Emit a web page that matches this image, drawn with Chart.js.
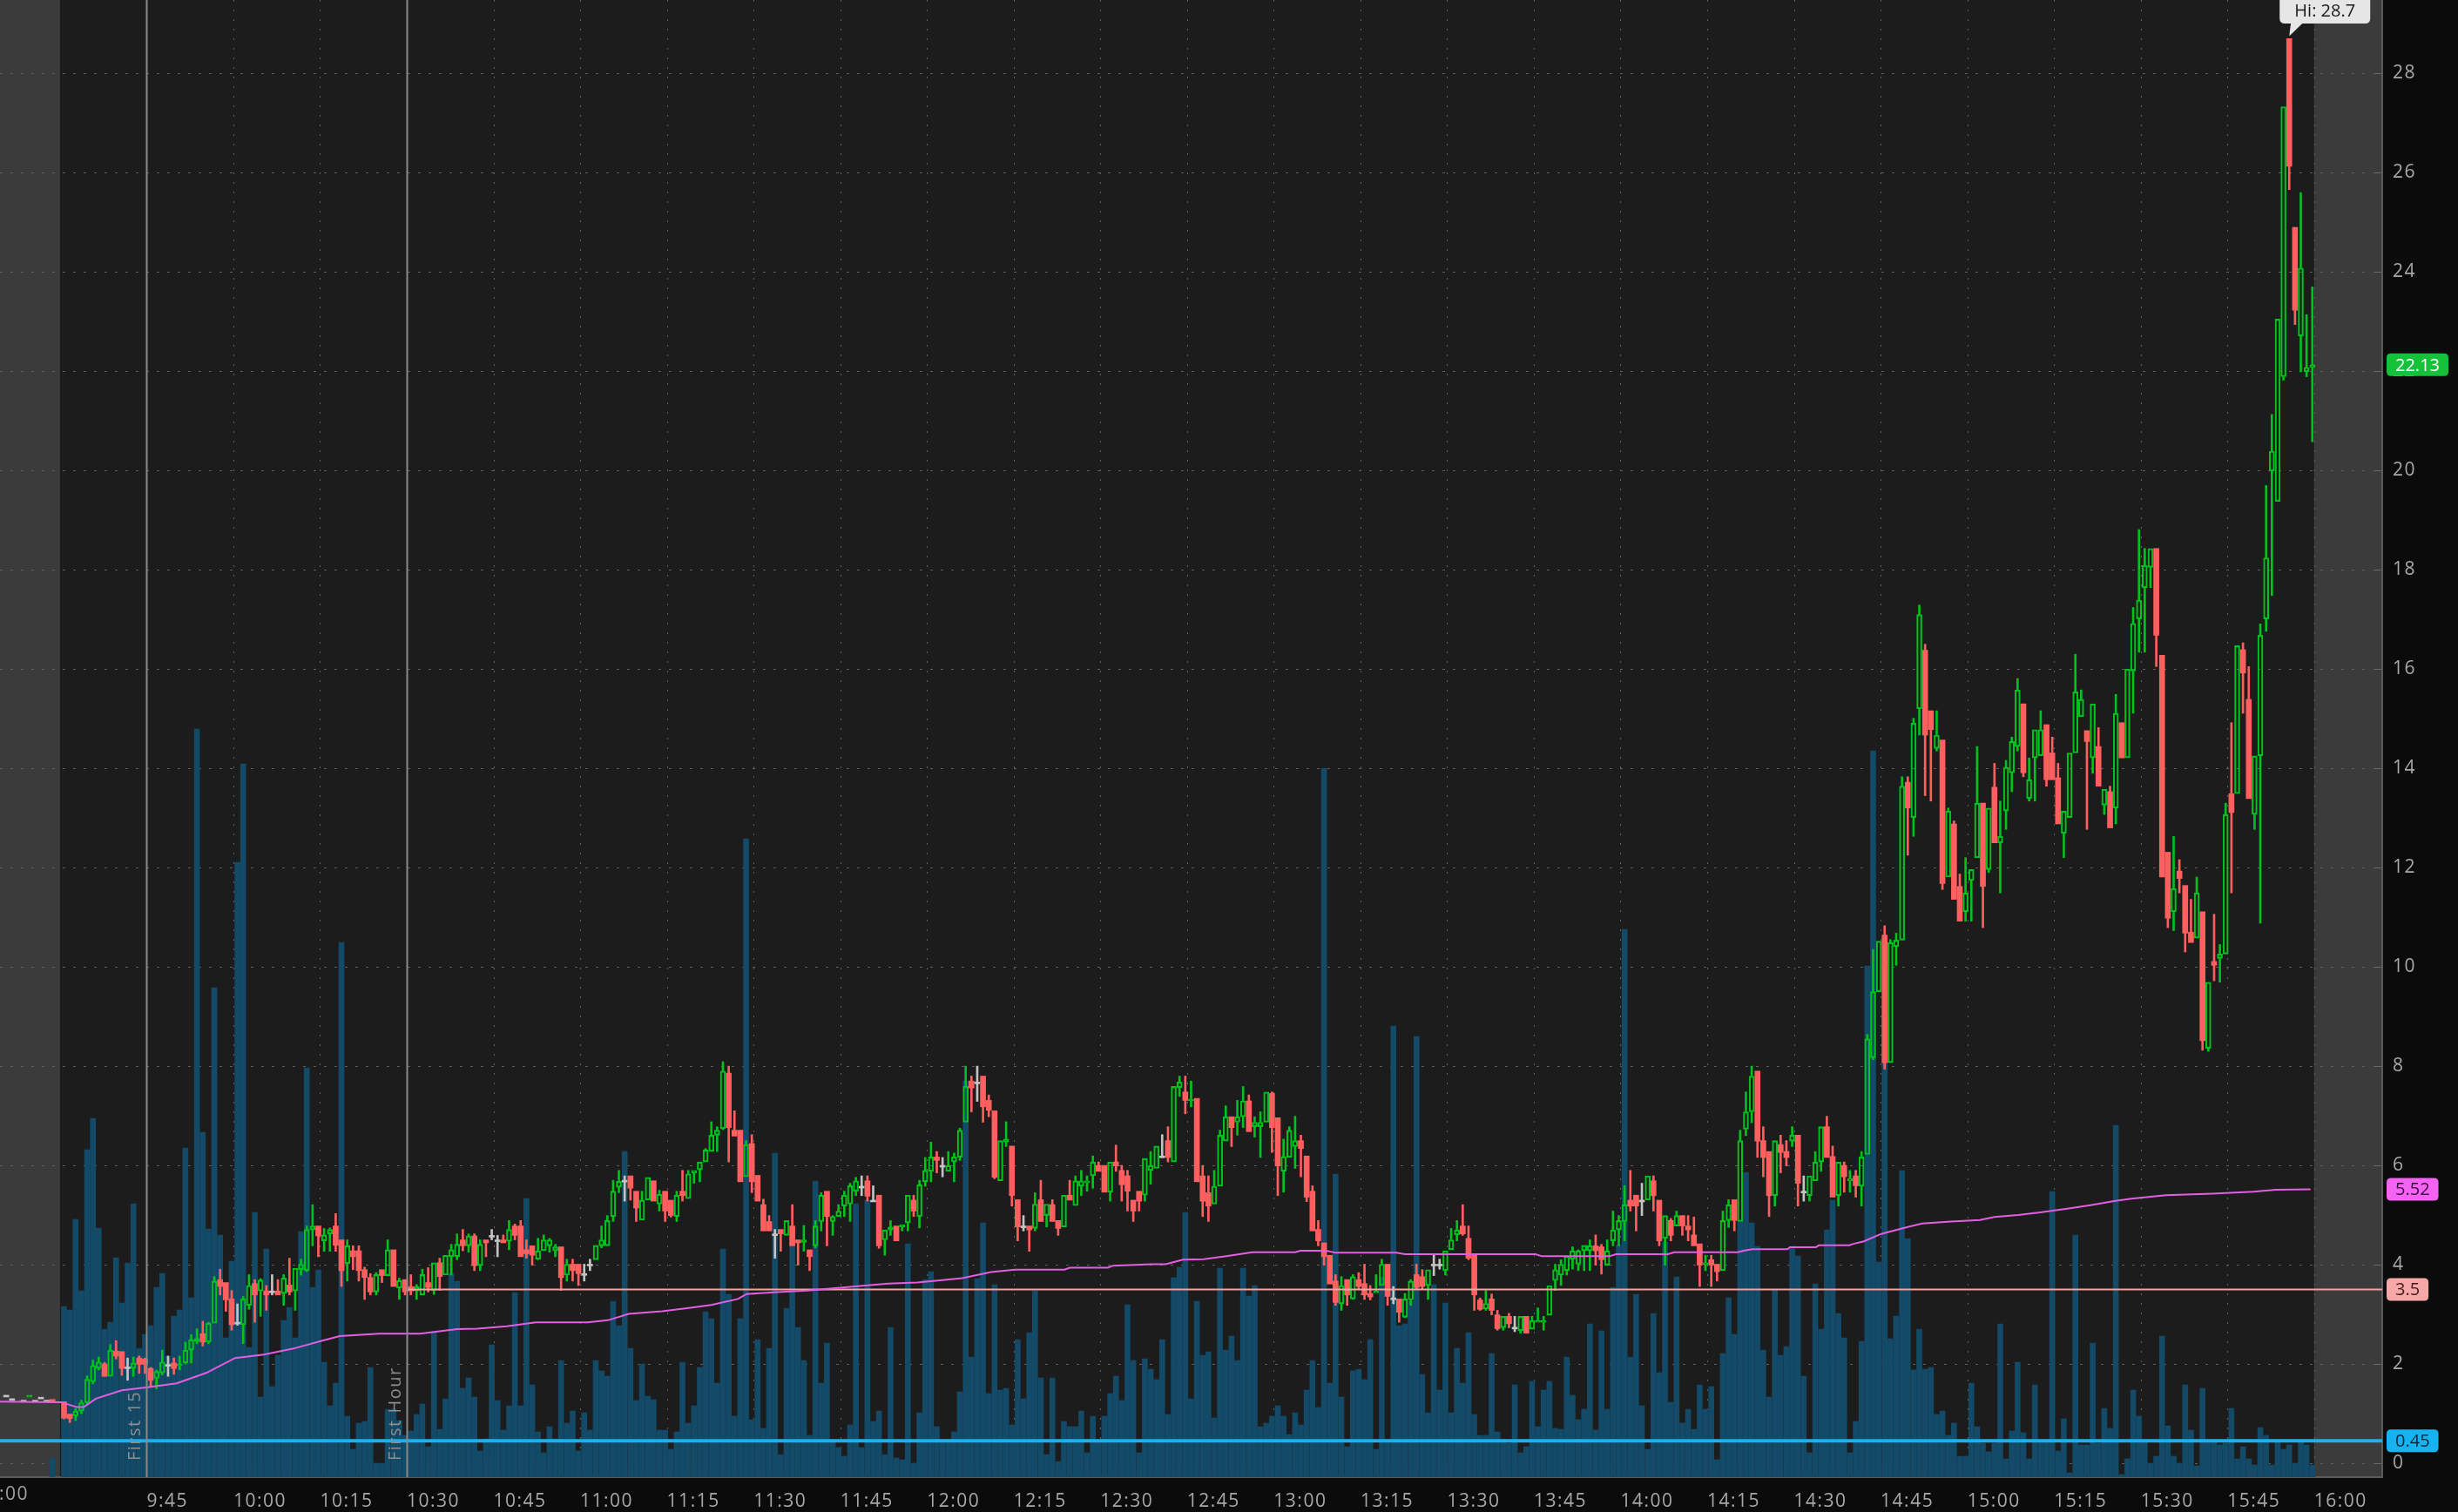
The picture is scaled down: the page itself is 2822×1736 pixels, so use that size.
<!DOCTYPE html>
<html><head><meta charset="utf-8">
<script src="https://cdn.jsdelivr.net/npm/chart.js@4.4.1/dist/chart.umd.min.js"></script>
<style>
html,body{margin:0;padding:0;background:#0b0b0b;overflow:hidden}
canvas{display:block}
</style></head><body>
<canvas id="c" width="2822" height="1736"></canvas>
<script>
// ---------- DATA (1-minute candles, minutes after the 9:30 open) ----------
const opens = [
1.24,0.99,0.95,1.05,1.22,1.64,1.91,2.00,1.75,2.26, 2.25,1.94,1.91,2.12,2.10,1.91,1.71,1.82,1.99,2.02,
1.96,2.02,2.28,2.45,2.61,2.44,2.82,3.70,3.64,3.31, 2.84,2.79,3.18,3.62,3.47,3.47,3.47,3.47,3.42,3.59,
3.47,3.90,3.88,4.70,4.78,4.48,4.62,4.78,4.50,4.02, 4.28,4.28,3.90,3.74,3.45,3.90,3.78,4.30,3.53,3.70,
3.56,3.47,3.39,3.64,3.48,4.04,3.79,4.16,4.16,4.50, 4.38,4.58,3.98,4.50,4.59,4.50,4.50,4.47,4.78,4.78,
4.30,4.38,4.11,4.28,4.38,4.28,4.36,3.79,4.01,4.01, 3.82,4.01,4.10,4.38,4.38,4.97,5.56,5.70,5.79,5.48,
4.90,5.30,5.69,5.22,5.48,5.30,4.97,5.48,5.33,5.85, 5.91,6.07,6.28,6.61,6.74,7.86,6.71,6.71,5.77,6.44,
5.80,5.21,4.87,4.62,4.71,4.59,4.78,4.50,4.45,4.30, 4.38,4.87,5.48,4.87,4.97,5.18,5.22,5.48,5.58,5.69,
5.30,5.40,4.50,4.70,4.78,4.76,4.84,5.30,4.97,5.67, 5.88,6.17,6.00,5.88,6.07,6.16,6.87,7.70,7.68,7.80,
7.31,7.10,5.69,6.47,6.39,5.31,4.78,4.78,4.73,5.31, 4.99,5.21,4.89,4.76,5.40,5.19,5.58,5.65,5.79,6.00,
6.00,5.46,6.07,5.90,5.79,5.30,5.48,5.40,5.90,5.94, 6.19,6.50,6.07,7.57,7.48,7.30,7.35,5.79,5.45,5.22,
5.58,6.49,6.98,6.87,6.98,7.30,6.78,6.78,6.87,7.45, 6.96,5.88,6.16,6.38,6.50,6.19,5.48,4.71,4.44,4.19,
3.67,3.21,3.70,3.31,3.70,3.62,3.42,3.43,3.58,4.01, 3.33,3.31,2.94,3.29,3.80,3.76,3.58,4.01,4.01,3.88,
4.30,4.60,4.78,4.53,4.19,3.29,3.11,3.31,2.99,2.73, 2.96,2.74,2.67,2.96,2.70,2.84,2.84,2.98,3.68,3.79,
3.88,4.11,4.01,4.28,4.28,4.38,4.36,3.99,4.48,4.70, 4.87,5.30,5.40,5.30,5.30,5.69,5.30,4.53,4.89,4.78,
4.99,4.78,4.60,4.42,4.00,4.10,4.01,3.88,4.89,5.31, 4.87,6.73,7.08,7.90,6.50,6.28,5.39,6.42,6.28,6.49,
6.61,5.48,5.39,5.69,6.07,6.78,6.18,5.39,6.00,5.69, 5.79,5.58,6.22,8.17,9.50,10.64,8.07,10.41,10.54,13.72,
13.01,15.20,16.38,15.16,14.40,14.57,11.81,12.88,11.62,11.11, 11.74,12.20,13.30,11.96,13.62,12.50,13.14,13.91,14.44,15.30,
13.39,14.21,14.25,14.88,14.31,13.81,12.69,13.01,14.31,15.04, 14.76,14.21,14.44,13.26,13.53,13.20,14.92,14.21,15.96,17.01,
17.64,18.05,18.43,16.28,12.31,11.11,11.93,11.64,10.70,10.58, 11.11,8.36,10.11,10.17,10.26,13.49,13.49,16.39,15.39,13.07,
14.25,17.01,19.99,19.38,21.89,28.70,24.90,22.71,21.99,22.08];
const highs = [
1.24,0.99,1.10,1.27,1.76,2.08,2.14,2.03,2.39,2.47, 2.25,2.12,2.14,2.16,2.12,1.93,1.88,2.28,2.16,2.12,
2.16,2.44,2.59,2.71,2.86,2.84,3.76,3.91,3.64,3.48, 3.21,3.36,3.80,3.70,3.72,3.58,3.80,3.70,3.80,4.13,
3.93,4.11,4.78,5.21,4.78,4.73,4.74,5.03,4.50,4.50, 4.38,4.38,3.95,3.82,3.84,3.90,4.50,4.30,3.73,3.70,
3.80,3.60,3.91,3.94,4.04,4.13,4.19,4.41,4.62,4.71, 4.62,4.62,4.50,4.50,4.71,4.59,4.60,4.89,4.82,4.89,
4.50,4.38,4.53,4.60,4.53,4.41,4.36,4.11,4.11,4.01, 4.01,4.11,4.39,4.78,4.99,5.70,5.90,5.79,5.79,5.48,
5.48,5.76,5.69,5.50,5.48,5.30,5.48,5.90,5.90,5.90, 6.07,6.34,6.88,6.78,8.09,8.00,7.10,6.71,6.50,6.62,
5.80,5.32,4.99,4.71,4.71,4.89,5.21,4.50,4.79,4.30, 4.89,5.45,5.48,4.99,5.21,5.48,5.64,5.76,5.79,5.79,
5.59,5.40,4.70,4.89,4.78,4.80,5.40,5.40,5.70,6.16, 6.47,6.28,6.16,6.28,6.25,6.75,8.00,7.80,8.00,7.80,
7.42,7.10,6.50,6.88,6.39,5.31,4.99,4.78,5.45,5.70, 5.22,5.31,4.89,5.40,5.70,5.79,5.90,5.79,6.19,6.07,
6.00,6.07,6.41,6.00,5.90,5.30,5.48,6.14,6.28,6.39, 6.62,6.78,7.59,7.80,7.80,7.70,7.35,6.00,5.79,5.90,
6.71,7.20,6.98,7.31,7.59,7.42,6.98,7.08,7.48,7.48, 6.96,6.53,6.78,6.99,6.61,6.19,5.59,4.89,4.44,4.19,
3.80,3.76,3.70,3.80,3.84,4.01,3.58,3.80,4.11,4.01, 3.56,3.31,3.42,3.70,4.01,3.90,3.90,4.19,4.11,4.28,
4.73,4.89,5.21,4.78,4.19,3.33,3.48,3.41,3.08,2.96, 3.02,2.96,2.96,2.96,2.96,3.13,2.96,3.58,4.01,4.10,
4.17,4.36,4.30,4.39,4.50,4.60,4.41,4.50,5.08,4.99, 5.59,5.90,5.40,5.64,5.79,5.79,5.30,4.99,4.93,5.08,
4.99,4.99,4.96,4.42,4.19,4.19,4.01,5.08,5.31,5.31, 6.71,7.48,8.00,7.90,6.78,6.28,6.50,6.61,6.50,6.78,
6.61,5.79,5.79,6.28,6.78,6.99,6.39,6.07,6.07,5.90, 5.90,6.28,8.64,10.35,10.52,10.83,10.55,10.68,13.83,13.83,
15.01,17.29,16.50,15.16,15.16,14.57,13.20,12.94,11.87,12.20, 11.96,14.44,13.30,13.20,14.10,13.34,14.16,14.63,15.81,15.30,
14.21,14.78,15.16,14.88,14.63,14.10,13.14,14.31,16.30,15.58, 14.76,15.30,14.82,13.58,13.64,15.49,14.92,16.00,17.24,18.81,
18.43,18.43,18.43,16.28,12.31,12.63,12.16,11.64,11.36,11.81, 11.11,9.69,11.06,10.45,13.30,14.92,16.47,16.53,16.05,14.25,
16.91,19.70,21.13,23.05,27.33,28.70,24.90,25.60,23.14,23.70];
const lows = [
0.89,0.82,0.86,1.00,1.20,1.60,1.88,1.75,1.75,2.10, 1.77,1.67,1.75,1.81,1.81,1.53,1.50,1.78,1.75,1.79,
1.88,2.00,2.02,2.41,2.36,2.41,2.82,3.39,3.06,2.68, 2.78,2.41,3.10,2.84,2.96,3.08,3.39,3.39,3.18,3.39,
3.08,3.79,3.86,4.38,4.16,4.27,4.27,4.27,3.56,3.67, 3.90,3.67,3.30,3.39,3.39,3.64,3.78,3.56,3.30,3.39,
3.39,3.30,3.39,3.45,3.40,3.48,3.79,3.79,4.10,4.28, 4.25,3.88,3.88,4.16,4.50,4.16,4.44,4.30,4.50,4.16,
4.13,3.99,4.10,4.28,4.25,4.16,3.48,3.67,3.67,3.58, 3.67,3.88,4.10,4.34,4.38,4.87,5.45,5.28,5.30,4.87,
4.90,5.30,5.28,5.08,4.87,4.96,4.87,5.28,5.33,5.64, 5.67,6.07,6.28,6.28,6.72,6.07,6.59,5.67,5.77,5.45,
5.28,4.68,4.68,4.13,4.27,4.59,4.38,3.99,4.27,3.88, 4.34,4.68,4.38,4.59,4.97,4.97,4.87,5.39,5.39,5.28,
5.28,4.33,4.19,4.59,4.48,4.68,4.68,4.97,4.74,5.58, 5.67,5.85,5.77,5.88,5.67,6.10,6.87,7.08,7.29,6.87,
6.98,5.73,5.69,6.38,5.18,4.48,4.68,4.27,4.68,4.87, 4.76,4.87,4.59,4.76,5.30,5.19,5.39,5.48,5.54,5.88,
5.46,5.28,5.88,5.28,5.08,4.87,5.08,5.28,5.62,5.94, 6.16,6.07,6.07,7.39,7.04,7.18,5.67,4.97,4.87,5.22,
5.58,6.49,6.38,6.61,6.76,6.68,6.57,6.16,6.87,6.26, 5.39,5.46,6.16,5.94,5.77,5.27,4.68,4.38,3.99,3.61,
3.18,3.08,3.18,3.30,3.50,3.30,3.29,3.43,3.58,3.18, 3.21,2.84,2.93,3.18,3.50,3.50,3.30,3.78,3.91,3.79,
4.30,4.48,4.59,4.10,3.08,3.08,3.08,2.99,2.68,2.68, 2.73,2.65,2.62,2.62,2.70,2.84,2.68,2.98,3.48,3.58,
3.79,3.91,3.88,3.88,3.88,3.99,3.81,3.99,4.38,4.38, 4.48,5.08,4.68,4.99,5.30,5.08,4.38,3.99,4.48,4.78,
4.59,4.48,4.38,3.56,3.88,3.56,3.67,3.88,4.75,4.68, 4.87,6.60,6.86,6.16,5.77,4.97,5.18,5.85,5.99,6.38,
5.18,5.28,5.28,5.69,5.88,6.16,5.36,5.18,5.46,5.46, 5.36,5.18,6.22,8.13,9.50,7.94,8.07,10.03,10.54,12.25,
12.63,14.67,13.45,13.34,14.35,11.56,11.81,11.36,10.92,10.92, 10.92,12.20,10.79,11.90,12.50,11.49,12.77,13.53,14.35,13.83,
13.34,13.34,14.25,13.64,13.77,12.88,12.20,13.01,14.31,15.04, 12.77,13.90,13.64,13.07,12.80,12.88,14.21,14.21,15.11,16.34,
16.34,17.64,16.05,11.81,10.79,10.73,11.49,10.30,10.49,10.58, 8.32,8.30,9.72,9.69,10.26,11.49,13.49,15.11,13.39,12.77,
10.88,16.76,17.48,19.38,21.82,25.66,22.94,21.99,21.89,20.58];
const closes = [
0.91,0.90,1.05,1.22,1.69,1.97,2.04,1.75,2.28,2.16, 1.91,1.94,2.02,1.99,1.99,1.67,1.85,2.04,1.99,1.91,
1.99,2.28,2.49,2.51,2.44,2.82,3.67,3.56,3.29,2.79, 2.84,3.31,3.58,3.39,3.69,3.39,3.47,3.39,3.73,3.45,
3.93,4.01,4.71,4.78,4.58,4.60,4.71,4.39,3.88,4.38, 4.16,3.88,3.74,3.45,3.80,3.78,4.30,3.56,3.68,3.45,
3.47,3.56,3.80,3.54,4.04,3.76,4.19,4.30,4.41,4.38, 4.58,3.98,4.41,4.44,4.59,4.50,4.44,4.71,4.59,4.16,
4.22,4.19,4.28,4.50,4.50,4.36,3.74,4.01,3.88,3.82, 3.82,4.01,4.39,4.50,4.89,5.48,5.68,5.70,5.54,5.14,
5.30,5.76,5.28,5.42,5.08,4.99,5.40,5.39,5.83,5.90, 6.07,6.31,6.61,6.71,7.90,6.76,6.59,5.67,6.42,5.67,
5.28,4.68,4.68,4.62,4.62,4.89,4.38,4.44,4.50,4.16, 4.78,5.40,4.97,4.97,5.08,5.40,5.59,5.69,5.58,5.38,
5.30,4.38,4.70,4.76,4.48,4.80,5.40,5.08,5.61,5.90, 6.17,6.10,6.00,6.00,6.17,6.71,7.59,7.56,7.68,7.18,
7.11,5.76,6.50,6.53,5.39,4.76,4.78,4.70,5.22,4.87, 5.22,4.87,4.73,5.40,5.30,5.69,5.69,5.69,6.07,5.88,
5.46,6.07,5.99,5.61,5.48,5.08,5.28,6.14,6.00,6.39, 6.19,6.16,7.59,7.68,7.31,7.33,5.67,5.28,5.18,5.58,
6.61,6.98,6.76,6.98,7.30,6.68,6.87,6.87,7.48,6.76, 5.99,6.18,6.71,6.50,6.34,5.36,4.68,4.48,4.16,3.61,
3.24,3.58,3.39,3.76,3.56,3.39,3.35,3.47,4.01,3.36, 3.33,3.04,3.31,3.67,3.54,3.56,3.90,4.01,4.01,4.28,
4.50,4.70,4.62,4.13,3.39,3.10,3.22,3.08,2.71,2.96, 2.81,2.74,2.96,2.62,2.87,2.87,2.87,3.58,3.90,4.01,
4.17,4.28,4.28,4.39,4.38,4.28,4.10,4.28,4.70,4.89, 5.21,5.18,5.18,5.30,5.79,5.39,4.48,4.99,4.59,4.99,
4.78,4.70,4.38,3.99,4.04,3.99,3.86,4.89,5.21,4.89, 6.50,7.08,7.80,6.49,6.16,5.39,6.50,6.26,6.16,6.61,
5.64,5.48,5.79,6.07,6.78,6.16,5.36,6.07,5.77,5.73, 5.59,6.17,8.55,9.50,10.52,8.07,10.49,10.54,13.64,13.20,
14.91,17.10,14.67,14.78,14.67,11.68,13.14,11.36,10.92,11.49, 11.96,13.30,11.62,13.20,12.50,12.63,14.02,14.54,15.58,13.91,
13.77,14.78,14.78,13.77,13.77,12.88,13.14,14.31,15.54,15.39, 14.54,15.30,13.64,13.58,12.80,15.11,14.21,16.00,16.92,17.39,
18.09,18.43,16.68,11.81,10.98,11.58,11.78,10.68,10.49,11.49, 8.51,9.69,10.03,10.26,13.07,13.11,16.47,15.92,13.39,14.25,
16.68,18.24,20.39,23.05,27.33,26.13,23.23,24.08,22.08,22.13];
// volume, thousands of shares
const volumes = [
19.6,19.2,29.6,21.4,37.6,41.2,28.6,17.0,17.8,25.2, 20.0,24.6,31.4,14.8,16.4,17.4,21.8,23.4,13.9,18.5,
19.2,37.8,20.6,85.9,39.6,28.5,56.2,27.8,16.0,24.8, 70.6,81.9,14.9,30.4,9.2,26.2,10.4,14.0,18.0,19.5,
16.0,28.2,47.0,21.8,23.8,13.2,8.2,10.8,61.4,7.0, 3.2,6.2,6.4,12.6,1.6,1.6,7.8,7.8,6.5,4.8,
5.3,7.2,8.4,3.5,16.7,5.5,9.0,23.4,22.5,10.2, 11.4,9.2,3.0,4.4,15.2,8.8,5.4,8.2,21.2,8.2,
32.0,10.6,5.2,2.8,5.8,4.4,13.4,6.2,7.6,3.0, 7.4,5.4,13.4,12.2,11.6,20.2,17.4,37.4,14.8,8.8,
13.0,9.3,8.9,5.4,5.4,3.2,5.2,13.2,6.2,8.2, 12.6,19.0,18.2,10.8,26.2,21.0,7.0,18.2,73.3,6.6,
15.8,5.6,14.8,37.2,2.6,19.4,26.9,17.2,13.4,4.8, 34.0,10.8,15.4,4.0,3.4,2.4,6.0,31.4,3.4,31.8,
6.4,7.6,2.6,17.2,2.2,2.0,26.8,1.6,7.4,22.7, 23.6,5.8,4.1,4.1,5.2,9.8,45.5,13.8,22.8,29.2,
9.6,22.1,10.0,10.2,6.0,15.8,9.0,16.6,21.4,11.4, 2.6,11.4,1.8,6.4,5.8,5.8,7.6,2.8,7.0,4.0,
7.0,9.6,11.6,8.8,19.8,13.4,2.8,13.6,12.4,11.2, 15.8,7.2,22.9,24.1,30.4,9.0,20.2,14.0,14.4,6.8,
24.0,14.6,16.2,13.4,24.0,20.8,22.0,5.8,6.2,7.0, 8.2,7.0,4.9,7.4,6.0,10.0,13.4,8.0,81.4,10.8,
34.8,9.2,3.5,12.2,12.4,11.2,15.8,3.2,23.0,4.0, 51.8,17.4,17.6,20.2,50.6,11.8,7.4,22.1,10.0,20.0,
7.4,14.8,10.8,16.6,7.2,4.8,4.8,14.2,5.2,4.1, 3.9,10.6,2.8,3.5,11.0,5.8,10.0,11.0,5.6,5.5,
13.8,9.4,6.6,7.8,17.6,5.4,16.8,7.8,21.8,26.7, 62.9,13.8,21.0,8.2,3.2,18.8,12.0,27.0,8.6,23.0,
6.2,7.8,5.5,10.6,7.8,10.4,2.0,14.2,20.6,16.4, 29.4,35.0,29.2,26.5,14.6,9.2,21.5,14.0,15.0,26.5,
25.4,11.6,2.8,22.2,17.0,28.4,31.8,18.8,16.0,2.8, 6.4,15.6,58.7,83.4,24.7,53.1,15.9,18.5,35.2,27.4,
12.3,17.0,12.4,12.6,7.2,7.6,4.8,6.2,2.4,2.4, 10.8,5.8,3.9,2.9,3.9,17.6,2.1,5.3,13.2,5.1,
2.1,10.6,4.0,4.2,32.8,3.0,6.7,0.5,27.8,3.7, 3.7,15.4,3.9,7.9,5.6,40.4,0.3,2.1,10.0,7.0,
4.2,1.6,2.4,16.2,5.9,2.4,1.6,10.6,5.4,1.3, 10.2,4.0,4.0,3.7,3.9,7.9,2.1,3.5,2.1,1.4,
5.7,4.8,1.4,4.2,3.2,3.7,1.6,4.2,3.7,1.4];

// pre-market prints (minutes relative to 9:30)
const preMinutes = [-10,-9,-7,-6,-5,-4,-3,-2];
const preOpens   = [1.37,1.30,1.27,1.33,1.27,1.33,1.27,1.27];
const preCloses  = [1.37,1.30,1.27,1.37,1.27,1.33,1.27,1.25];
const preVolumes = [0,0,0,0,0,0,0,2.2];

// VWAP study (minute, value)
const vwapMinutes = [-10.4,0.2,2.9,4.1,6.2,10.7,15.2,20.2,25.3,30.3,35.3,40.4,45.4,48.4,55.2,62.3,68.7,72.2,77.3,82.3,
91.3,94.8,98.4,104.2,109.1,112.7,117.3,118.8,124.2,129.3,135.4,139.3,143.3,148.3,151.9,156.1,161.1,165.2,173.8,174.7,
181.3,182.2,188.9,191.3,194.3,197.9,201.8,206.3,213.7,214.6,219.1,220.7,231.2,232.7,255.3,256.4,268.1,269.2,278.2,279.3,
290.3,291.3,292.8,298.9,299.3,303.8,304.3,309.6,310.3,312.1,315.1,319.7,322.2,327.2,332.2,334.7,338.8,342.3,347.3,351.3,
355.4,358.4,364.4,372.4,379.5,383.4,389.4];
const vwapValues = [1.24,1.23,1.13,1.13,1.3,1.47,1.53,1.61,1.82,2.12,2.19,2.31,2.47,2.56,2.61,2.61,2.7,2.71,2.76,2.84,
2.84,2.88,3.01,3.06,3.13,3.19,3.31,3.41,3.45,3.48,3.54,3.58,3.62,3.64,3.68,3.73,3.85,3.9,3.9,3.94,
3.94,3.98,4.01,4.01,4.1,4.11,4.17,4.25,4.25,4.28,4.28,4.24,4.24,4.21,4.21,4.17,4.17,4.21,4.21,4.25,
4.25,4.28,4.31,4.31,4.35,4.35,4.39,4.39,4.42,4.47,4.62,4.76,4.83,4.87,4.9,4.96,5.0,5.05,5.13,5.2,
5.28,5.33,5.4,5.43,5.47,5.51,5.52];

const timeTicks  = [15,30,45,60,75,90,105,120,135,150,165,180,195,210,225,240,255,270,285,300,315,330,345,360,375,390];
const priceTicks = [0,2,4,6,8,10,12,14,16,18,20,22,24,26,28];
const levelValues = [3.5, 0.45];
const levelStarts = [60, -10.4];
const markerMinutes = [15, 60];
const markerLabels = ['First 15', 'First Hour'];
const sessionBounds = [0, 390];
const vwapLast = 5.52;

// ---------- view range ----------
const candleOffset = 0.7;
const xMin = -10.38, xMax = 401.79;
const yMin = -0.281, yMax = 29.48;

const UP = '#00c21c', DN = '#ff5f5f', FLAT = '#c4c4c4';
const VOL = '#124a68';
const FONT = '"Open Sans", "DejaVu Sans", sans-serif';

function fmtTime(m){ const t = 570 + m; return Math.floor(t/60) + ':' + String(t % 60).padStart(2,'0'); }

const allMin = preMinutes.concat(opens.map((_, i) => i));
const allO = preOpens.concat(opens);
const allC = preCloses.concat(closes);
const allH = preOpens.map((o, i) => Math.max(o, preCloses[i])).concat(highs);
const allL = preOpens.map((o, i) => Math.min(o, preCloses[i])).concat(lows);
const allV = preVolumes.concat(volumes);

const volData = [], bodyData = [], bodyBg = [], bodyBorder = [], bodyBW = [];
const upWick = [], upWickC = [], loWick = [], loWickC = [];
for (let i = 0; i < allMin.length; i++) {
  const xv = allMin[i] + candleOffset;
  const o = allO[i], c = allC[i], h = allH[i], l = allL[i];
  const col = c > o ? UP : (c < o ? DN : FLAT);
  const top = Math.max(o, c), bot = Math.min(o, c);
  if (allV[i] > 0) volData.push({x: xv, y: allV[i]});
  bodyData.push({x: xv, y: [bot, top]});
  bodyBg.push(c > o ? 'rgba(0,0,0,0)' : col);
  bodyBorder.push(col);
  bodyBW.push(c > o ? 1.5 : 0);
  if (h > top) { upWick.push({x: xv, y: [top, h]}); upWickC.push(col); }
  if (l < bot) { loWick.push({x: xv, y: [l, bot]}); loWickC.push(col); }
}
const lastPrice = closes[closes.length - 1];
const hiValue = Math.max(...highs);
const hiIndex = highs.indexOf(hiValue);

function rr(ctx, x, y, w, h, r){
  ctx.beginPath();
  ctx.moveTo(x + r, y); ctx.lineTo(x + w - r, y); ctx.quadraticCurveTo(x + w, y, x + w, y + r);
  ctx.lineTo(x + w, y + h - r); ctx.quadraticCurveTo(x + w, y + h, x + w - r, y + h);
  ctx.lineTo(x + r, y + h); ctx.quadraticCurveTo(x, y + h, x, y + h - r);
  ctx.lineTo(x, y + r); ctx.quadraticCurveTo(x, y, x + r, y); ctx.closePath();
}

const bgPlugin = {
  id: 'bg',
  beforeDraw(chart){
    const {ctx, chartArea: a, scales: {x, y}} = chart;
    ctx.save();
    ctx.fillStyle = '#0b0b0b'; ctx.fillRect(0, 0, chart.width, chart.height);
    ctx.fillStyle = '#1c1c1c'; ctx.fillRect(a.left, a.top, a.right - a.left, a.bottom - a.top);
    const op = x.getPixelForValue(sessionBounds[0]), cl = x.getPixelForValue(sessionBounds[1]);
    ctx.fillStyle = '#3b3b3b';
    ctx.fillRect(a.left, a.top, op - a.left, a.bottom - a.top);
    ctx.fillRect(cl, a.top, a.right - cl, a.bottom - a.top);
    ctx.lineWidth = 1;
    ctx.strokeStyle = '#5f5f5f';
    ctx.setLineDash([3, 9]);
    priceTicks.forEach(v => {
      const yy = Math.round(y.getPixelForValue(v)) + 0.5;
      ctx.beginPath(); ctx.moveTo(a.left, yy); ctx.lineTo(a.right - 12, yy); ctx.stroke();
    });
    ctx.setLineDash([2, 9]);
    timeTicks.forEach(v => {
      const xx = Math.round(x.getPixelForValue(v)) + 0.5;
      ctx.beginPath(); ctx.moveTo(xx, a.top); ctx.lineTo(xx, a.bottom); ctx.stroke();
    });
    ctx.setLineDash([]);
    ctx.strokeStyle = '#6a6a6a';
    priceTicks.forEach(v => {
      const yy = Math.round(y.getPixelForValue(v)) + 0.5;
      ctx.beginPath(); ctx.moveTo(a.right - 10, yy); ctx.lineTo(a.right, yy); ctx.stroke();
    });
    ctx.restore();
    // slightly spaced axis text, like the source terminal
    if ('letterSpacing' in ctx) ctx.letterSpacing = '1.5px';
  },
  afterDatasetsDraw(chart){
    const {ctx, chartArea: a, scales: {x}} = chart;
    ctx.save();
    markerMinutes.forEach((m, i) => {
      const px = Math.round(x.getPixelForValue(m)) + 0.5;
      ctx.strokeStyle = '#8a8a8a'; ctx.lineWidth = 2;
      ctx.beginPath(); ctx.moveTo(px, a.top); ctx.lineTo(px, a.bottom); ctx.stroke();
      ctx.save();
      ctx.translate(px - 13, a.bottom - 19);
      ctx.rotate(-Math.PI / 2);
      ctx.fillStyle = '#8e8e8e'; ctx.font = '20px ' + FONT;
      ctx.textAlign = 'left'; ctx.textBaseline = 'middle';
      ctx.fillText(markerLabels[i], 0, 0);
      ctx.restore();
    });
    ctx.restore();
  },
  afterDraw(chart){
    const {ctx, chartArea: a, scales: {x, y}} = chart;
    ctx.save();
    // clipped left label
    ctx.font = '21px ' + FONT; ctx.fillStyle = '#a0a0a0';
    ctx.textAlign = 'right'; ctx.textBaseline = 'middle';
    ctx.fillText('9:00', 33, a.bottom + 20);
    if ('letterSpacing' in ctx) ctx.letterSpacing = '0px';
    // price badges
    const badges = [
      [lastPrice.toFixed(2), lastPrice, '#16c13a', '#ffffff'],
      [String(vwapLast), vwapLast, '#f463f4', '#3a0a3a'],
      [String(levelValues[0]), levelValues[0], '#f6a8a8', '#4a1818'],
      [String(levelValues[1]), levelValues[1], '#16b3f1', '#06283a']
    ];
    ctx.font = '20px ' + FONT;
    badges.forEach(([t, v, bg, fg]) => {
      const yc = y.getPixelForValue(v);
      const w = ctx.measureText(t).width + 20, h = 26;
      rr(ctx, a.right + 5, yc - h / 2, w, h, 5);
      ctx.fillStyle = bg; ctx.fill();
      ctx.fillStyle = fg; ctx.textAlign = 'center'; ctx.textBaseline = 'middle';
      ctx.fillText(t, a.right + 5 + w / 2, yc + 1);
    });
    // Hi bubble
    const hx = x.getPixelForValue(hiIndex + candleOffset), hy = y.getPixelForValue(hiValue);
    const bl = hx - 11, bw = 104, bh = 27;
    ctx.fillStyle = '#e6e6e6';
    rr(ctx, bl, -6, bw, bh + 6, 6); ctx.fill();
    ctx.beginPath(); ctx.moveTo(hx, hy - 3); ctx.lineTo(hx + 2, bh - 1); ctx.lineTo(hx + 16, bh - 1); ctx.closePath(); ctx.fill();
    ctx.fillStyle = '#1a1a1a'; ctx.textAlign = 'center'; ctx.textBaseline = 'middle';
    ctx.fillText('Hi: ' + hiValue, bl + bw / 2, 13);
    ctx.restore();
  }
};

Chart.defaults.font.family = FONT;
new Chart(document.getElementById('c'), {
  type: 'bar',
  data: {
    datasets: [
      { type: 'line', data: vwapMinutes.map((m, i) => ({x: m, y: vwapValues[i]})),
        borderColor: '#e35ee3', borderWidth: 2, pointRadius: 0, tension: 0, order: 1, yAxisID: 'y' },
      { type: 'line', data: [{x: levelStarts[0], y: levelValues[0]}, {x: xMax, y: levelValues[0]}],
        borderColor: '#f0a4a4', borderWidth: 2, pointRadius: 0, order: 1, yAxisID: 'y' },
      { type: 'line', data: [{x: levelStarts[1], y: levelValues[1]}, {x: xMax, y: levelValues[1]}],
        borderColor: '#19b2ee', borderWidth: 4, pointRadius: 0, order: 1, yAxisID: 'y' },
      { data: bodyData, backgroundColor: bodyBg, borderColor: bodyBorder, borderWidth: bodyBW,
        borderSkipped: false, barThickness: 6, minBarLength: 2, grouped: false, order: 3, yAxisID: 'y' },
      { data: upWick, backgroundColor: upWickC, barThickness: 2, grouped: false, order: 4, yAxisID: 'y' },
      { data: loWick, backgroundColor: loWickC, barThickness: 2, grouped: false, order: 4, yAxisID: 'y' },
      { data: volData, backgroundColor: VOL, barThickness: 6, grouped: false, order: 10, yAxisID: 'yv' }
    ]
  },
  options: {
    responsive: false, animation: false, events: [],
    devicePixelRatio: 1,
    layout: { padding: 0, autoPadding: false },
    plugins: { legend: { display: false }, tooltip: { enabled: false } },
    scales: {
      x: {
        type: 'linear', position: 'bottom', min: xMin, max: xMax, offset: false,
        grid: { display: false, offset: false },
        border: { display: true, color: '#5a5a5a', width: 2 },
        afterBuildTicks: s => { s.ticks = timeTicks.map(v => ({value: v})); },
        afterFit: s => { s.height = 40; s.paddingLeft = 0; s.paddingRight = 0; },
        ticks: { align: 'start', autoSkip: false, maxRotation: 0, minRotation: 0, padding: 7,
          color: '#a8a8a8', font: { size: 21 }, callback: v => fmtTime(v) }
      },
      y: {
        type: 'linear', position: 'right', min: yMin, max: yMax,
        grid: { display: false },
        border: { display: true, color: '#5a5a5a', width: 2 },
        afterBuildTicks: s => { s.ticks = priceTicks.map(v => ({value: v})); },
        afterFit: s => { s.width = 87; s.paddingTop = 0; s.paddingBottom = 0; },
        ticks: { padding: 4, color: '#a8a8a8', font: { size: 21 }, callback: v => String(v) }
      },
      yv: { type: 'linear', display: false, min: 0, max: 169.6 }
    }
  },
  plugins: [bgPlugin]
});
</script>
</body></html>
